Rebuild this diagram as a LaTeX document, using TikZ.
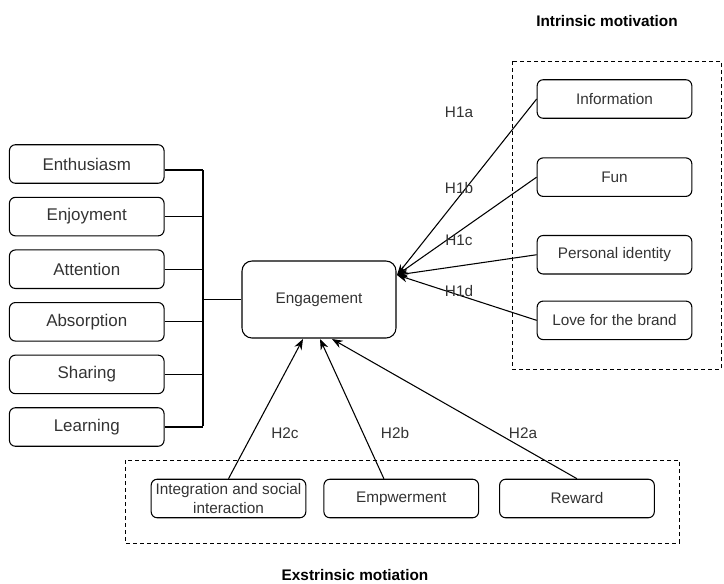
\documentclass[tikz,border=0pt]{standalone}
\usepackage{fontspec}
\setmainfont{Liberation Sans}
\usetikzlibrary{positioning,arrows.meta}
\definecolor{inkgray}{HTML}{333333}

\begin{document}
\begin{tikzpicture}[x=0.75pt,y=-0.75pt,font=\fontsize{11.5}{14.25}\selectfont,node distance=9.75pt,
  box/.style={rounded corners=4.5pt,draw,line width=0.8pt,minimum width=116pt,minimum height=28.9pt,
              inner xsep=1pt,inner ysep=1pt,align=center,text=inkgray},
  dimbox/.style={box,font=\fontsize{12.7}{15}\selectfont},
  group/.style={draw,line width=0.75pt,dash pattern=on 3pt off 2.25pt},
  wire/.style={draw,line width=0.8pt},
  hyp/.style={-{Stealth[length=8pt,width=6pt]},line width=0.8pt},
  lbl/.style={text=inkgray},
  title/.style={font=\fontsize{11.5}{14}\selectfont\bfseries}]
\useasboundingbox (0,0) rectangle (724,583);

% motivation groups
\draw[group] (512,61) rectangle (721,369);
\draw[group] (125,460) rectangle (679,543);
\node[title] (intr) at (607,21) {Intrinsic motivation};
\node[title] (extr) at (355,575) {Exstrinsic motiation};

% engagement dimensions
\node[dimbox] (enth) at (86.75,164) {Enthusiasm};
\node[dimbox,below=of enth] (enjo) {Enjoyment};
\node[dimbox,below=of enjo] (atte) {Attention};
\node[dimbox,below=of atte] (abso) {Absorption};
\node[dimbox,below=of abso] (shar) {Sharing};
\node[dimbox,below=of shar] (lear) {Learning};

\node[box,rounded corners=7.5pt,minimum width=115.5pt,minimum height=57.75pt] (eng) at (319,299.5) {Engagement};

\coordinate (bustop) at (203,170);
\coordinate (busend) at (203,426);
\coordinate (bus) at (203,299.5);
\draw[wire] (bustop) -- (busend);
\draw[wire] ([yshift=-4.5pt]enth.east) -- (bustop);
\foreach \n in {enjo,atte,abso,shar,lear}
  \draw[wire] (\n.east) -- (\n.east -| bus);
\draw[wire] (bus) -- (eng.west);

% intrinsic
\node[box] (info) at (614.5,99) {Information};
\node[box,below=28.9pt of info] (fun) {Fun};
\node[box,below=28.5pt of fun] (pers) {Personal identity};
\node[box,below=19.5pt of pers] (love) {Love for the brand};

\coordinate (engin) at (397,275);
\foreach \n in {info,fun,pers,love}
  \draw[hyp] (\n.west) -- (engin);

\node[lbl] (h1a) at (459,112) {H1a};
\node[lbl] (h1b) at (459,188) {H1b};
\node[lbl] (h1c) at (459,240) {H1c};
\node[lbl] (h1d) at (459,291) {H1d};

% extrinsic
\node[box,inner ysep=0.2pt] (inte) at (228.5,498.5) {Integration and social\\interaction};
\node[box,right=12.75pt of inte] (empw) {Empwerment};
\node[box,right=15pt of empw] (rewa) {Reward};

\coordinate (engc) at (303,339);
\coordinate (engb) at (320,339);
\coordinate (enga) at (332,339);
\draw[hyp] (inte.north) -- (engc);
\draw[hyp] ([xshift=-13pt]empw.north) -- (engb);
\draw[hyp] (rewa.north) -- (enga);

\node[lbl] (h2c) at (285,433) {H2c};
\node[lbl] (h2b) at (395,433) {H2b};
\node[lbl] (h2a) at (523,433) {H2a};
\end{tikzpicture}
\end{document}
